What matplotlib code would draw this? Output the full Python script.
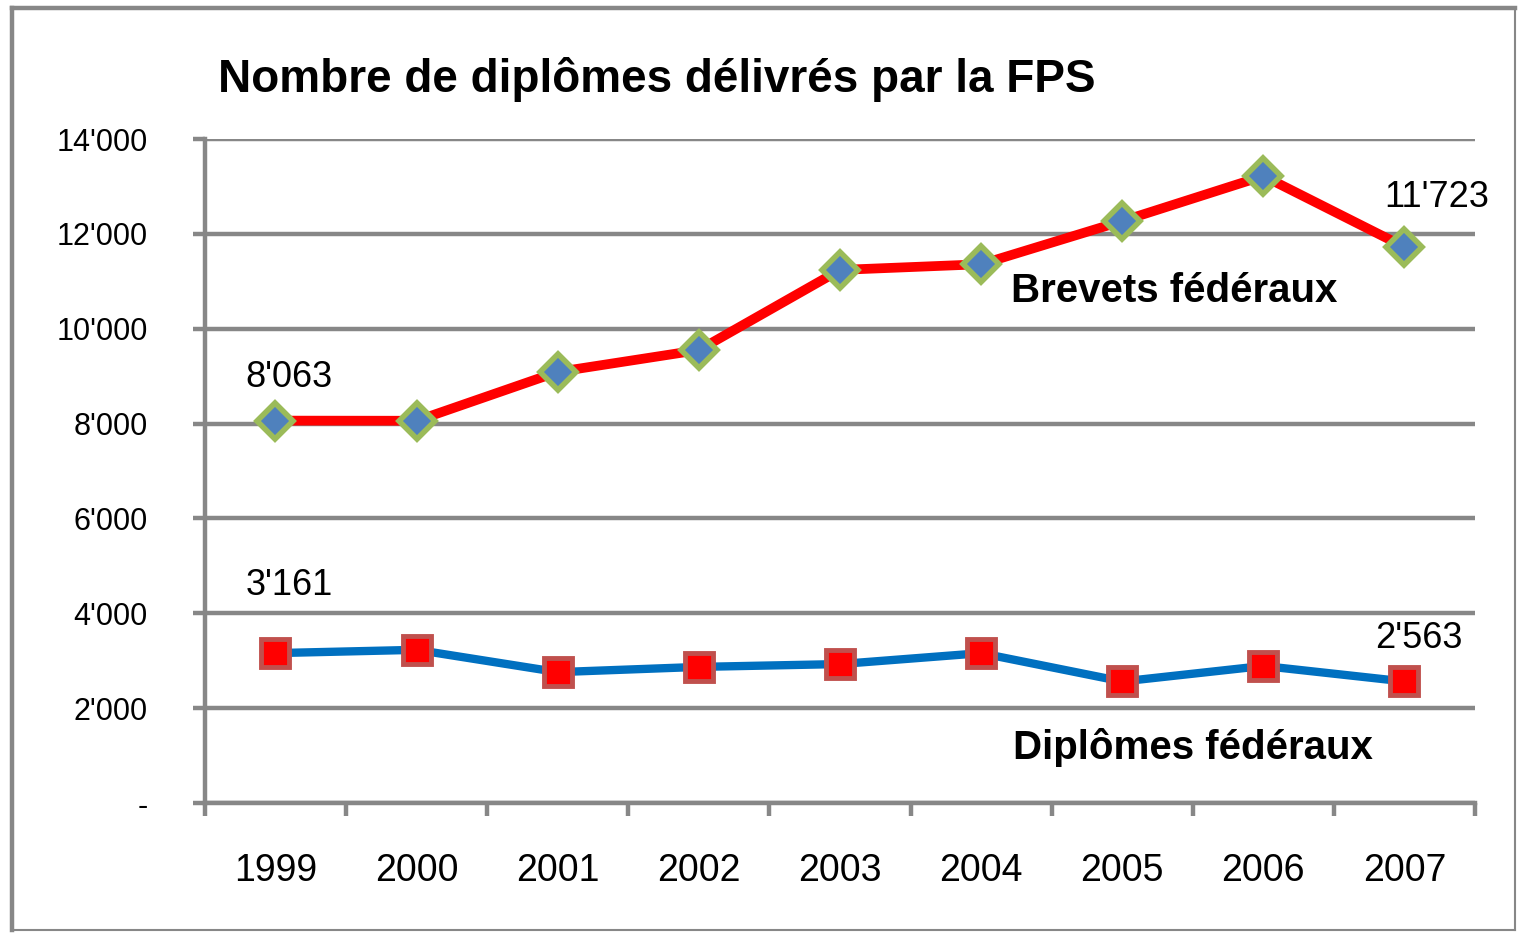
"""Nombre de diplômes délivrés par la FPS, 1999-2007."""

import matplotlib

matplotlib.use("Agg")
import matplotlib.pyplot as plt
from matplotlib.lines import Line2D
from matplotlib.ticker import FuncFormatter

years = ["1999", "2000", "2001", "2002", "2003", "2004", "2005", "2006", "2007"]
brevets = [8063, 8060, 9090, 9550, 11240, 11360, 12270, 13220, 11723]
diplomes = [3161, 3230, 2760, 2870, 2930, 3160, 2563, 2890, 2563]

plt.rcParams["font.family"] = ["Liberation Sans Narrow", "Liberation Sans", "DejaVu Sans"]

GREY = "#878787"


def fmt_thousands(v, _pos=None):
    if v == 0:
        return "-"
    return f"{int(round(v)):,}".replace(",", "'")


fig = plt.figure(figsize=(15.18, 9.33), dpi=100)
ax = fig.add_axes([0.135, 0.1393, 0.8367, 0.7117])

x = list(range(len(years)))
ax.plot(x, brevets, color="#FF0000", lw=7, marker="D", ms=18,
        markerfacecolor="#4F81BD", markeredgecolor="#9BBB59", mew=4, zorder=4,
        solid_capstyle="round")
ax.plot(x, diplomes, color="#0070C0", lw=6, marker="s", ms=20,
        markerfacecolor="#FF0000", markeredgecolor="#C0504D", mew=3.5, zorder=4)

ax.set_xlim(-0.5, len(years) - 0.5)
ax.set_ylim(0, 14000)
ax.set_yticks(range(0, 14001, 2000))
ax.yaxis.set_major_formatter(FuncFormatter(fmt_thousands))
ax.grid(axis="y", color=GREY, lw=3.2, zorder=1)
ax.set_axisbelow(True)

ax.set_xticks([i + 0.5 for i in range(-1, len(years))])
ax.set_xticklabels([])
ax.set_xticks(x, minor=True)
ax.set_xticklabels(years, minor=True)
ax.tick_params(axis="x", which="major", length=9, width=3.2, color=GREY, direction="out")
ax.tick_params(axis="x", which="minor", length=0, pad=36, labelsize=27)
ax.tick_params(axis="y", length=9, width=3.2, color=GREY, pad=32, labelsize=22)

for side in ("top", "right"):
    ax.spines[side].set_visible(False)
for side in ("left", "bottom"):
    ax.spines[side].set_color(GREY)
    ax.spines[side].set_linewidth(3.2)

label_kw = dict(textcoords="offset points", ha="center", va="center", fontsize=26)
ax.annotate(fmt_thousands(brevets[0]), (x[0], brevets[0]), xytext=(10, 31), **label_kw)
ax.annotate(fmt_thousands(diplomes[0]), (x[0], diplomes[0]), xytext=(10, 49), **label_kw)
ax.annotate(fmt_thousands(brevets[-1]), (x[-1], brevets[-1]), xytext=(23, 36), **label_kw)
ax.annotate(fmt_thousands(diplomes[-1]), (x[-1], diplomes[-1]), xytext=(10, 31), **label_kw)

ax.text(6.37, 10800, "Brevets fédéraux", ha="center", va="center",
        fontsize=29, fontweight="bold")
ax.text(6.5, 1180, "Diplômes fédéraux", ha="center", va="center",
        fontsize=29, fontweight="bold")

fig.text(218 / 1518, 1 - 80 / 933, "Nombre de diplômes délivrés par la FPS",
         ha="left", va="center", fontsize=33, fontweight="bold")

# outer frame: heavier on the left and top, thin on the right and bottom
l, r, b, t = 12 / 1518, 1515 / 1518, 1 - 930 / 933, 1 - 8 / 933
for xs, ys, w in [([l, l], [b, t], 3.2), ([l, r], [t, t], 3.2),
                  ([r, r], [b, t], 1.5), ([l, r], [b, b], 1.5)]:
    fig.add_artist(Line2D(xs, ys, transform=fig.transFigure, color=GREY, lw=w,
                          solid_capstyle="projecting"))

fig.savefig("out.png", dpi=100)
